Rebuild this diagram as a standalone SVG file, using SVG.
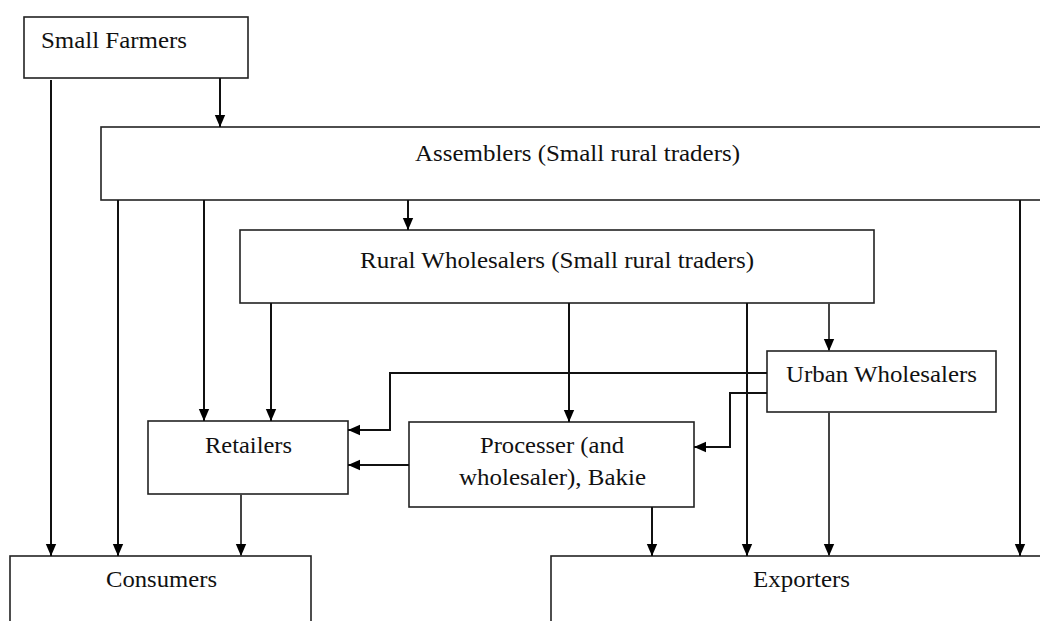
<svg xmlns="http://www.w3.org/2000/svg" width="1040" height="621" viewBox="0 0 1040 621">
<style>
.box{fill:#fff;stroke:#222;stroke-width:1.6}
.t{font-family:"Liberation Serif","Times New Roman",serif;font-size:24px;fill:#111}
.c{fill:none;stroke:#111;stroke-width:2}
.g{fill:none;stroke:#444;stroke-width:2}
</style>
<defs>
<marker id="ah" markerUnits="userSpaceOnUse" markerWidth="12" markerHeight="12" viewBox="0 0 12 12" refX="12" refY="6" orient="auto">
<path d="M0,0.8 L12,6 L0,11.2 Z" fill="#000"/>
</marker>
</defs>
<rect width="1040" height="621" fill="#fff"/>
<g id="small-farmers"><rect class="box" x="24" y="17" width="224" height="61"/><text class="t" x="41" y="48" textLength="146" lengthAdjust="spacingAndGlyphs">Small Farmers</text></g>
<g id="assemblers"><rect class="box" x="101" y="127" width="945" height="73"/><text class="t" x="415" y="161" textLength="325" lengthAdjust="spacingAndGlyphs">Assemblers (Small rural traders)</text></g>
<g id="rural-wholesalers"><rect class="box" x="240" y="230" width="634" height="73"/><text class="t" x="360" y="268" textLength="394" lengthAdjust="spacingAndGlyphs">Rural Wholesalers (Small rural traders)</text></g>
<g id="urban-wholesalers"><rect class="box" x="767" y="351" width="229" height="61"/><text class="t" x="786" y="382" textLength="191" lengthAdjust="spacingAndGlyphs">Urban Wholesalers</text></g>
<g id="retailers"><rect class="box" x="148" y="421" width="200" height="73"/><text class="t" x="205" y="453" textLength="87" lengthAdjust="spacingAndGlyphs">Retailers</text></g>
<g id="processer"><rect class="box" x="409" y="422" width="285" height="85"/><text class="t" x="480" y="453" textLength="144" lengthAdjust="spacingAndGlyphs">Processer (and</text><text class="t" x="459" y="485" textLength="187" lengthAdjust="spacingAndGlyphs">wholesaler), Bakie</text></g>
<g id="consumers"><rect class="box" x="10" y="556" width="301" height="80"/><text class="t" x="106" y="587" textLength="111" lengthAdjust="spacingAndGlyphs">Consumers</text></g>
<g id="exporters"><rect class="box" x="551" y="556" width="500" height="80"/><text class="t" x="753" y="587" textLength="97" lengthAdjust="spacingAndGlyphs">Exporters</text></g>
<g id="connectors">
<path class="c" d="M220 78 V127" marker-end="url(#ah)"/>
<path class="c" d="M51 80 V556" marker-end="url(#ah)"/>
<path class="c" d="M118 200 V556" marker-end="url(#ah)"/>
<path class="c" d="M204 200 V421" marker-end="url(#ah)"/>
<path class="c" d="M408 200 V230" marker-end="url(#ah)"/>
<path class="c" d="M1020 200 V556" marker-end="url(#ah)"/>
<path class="c" d="M271 303 V421" marker-end="url(#ah)"/>
<path class="c" d="M569 303 V422" marker-end="url(#ah)"/>
<path class="c" d="M747 303 V556" marker-end="url(#ah)"/>
<path class="g" d="M829 303 V351" marker-end="url(#ah)"/>
<path class="c" d="M767 373 H390 V430 H348" marker-end="url(#ah)"/>
<path class="c" d="M767 393 H730 V447 H694" marker-end="url(#ah)"/>
<path class="g" d="M829 412 V556" marker-end="url(#ah)"/>
<path class="c" d="M409 465 H348" marker-end="url(#ah)"/>
<path class="g" d="M241 494 V556" marker-end="url(#ah)"/>
<path class="c" d="M652 507 V556" marker-end="url(#ah)"/>
</g>
</svg>
